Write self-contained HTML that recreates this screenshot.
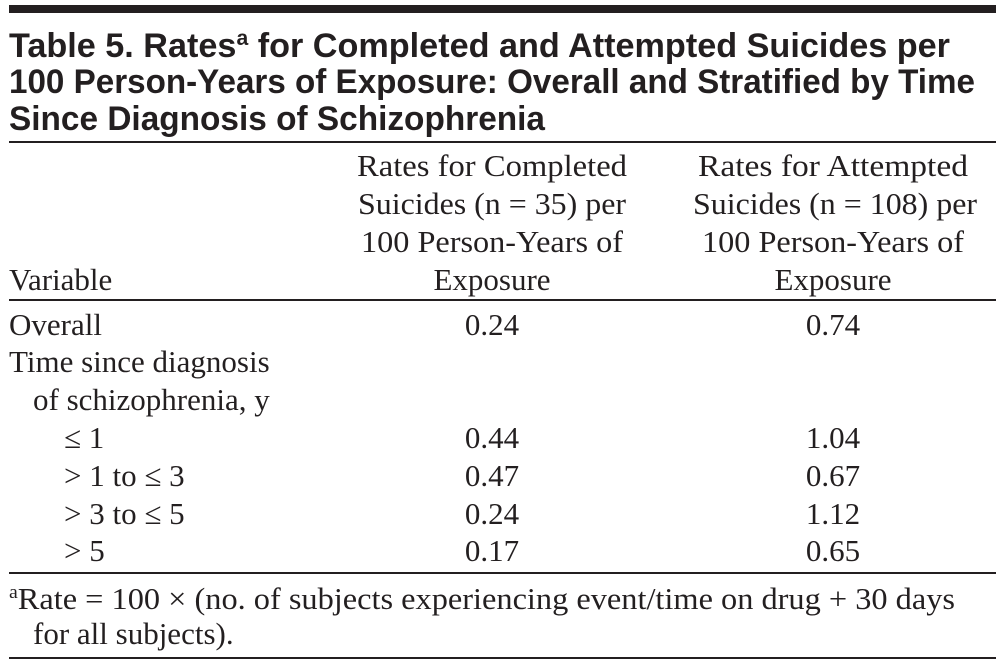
<!DOCTYPE html>
<html><head><meta charset="utf-8"><style>
html,body{margin:0;padding:0;background:#fff;}
svg{display:block;}
.t{font-family:"Liberation Sans",sans-serif;font-weight:bold;font-size:34px;fill:#231f20;}
.s{font-family:"Liberation Serif",serif;font-size:31px;fill:#231f20;}
</style></head><body>
<svg width="1003" height="666" viewBox="0 0 1003 666">
<rect x="9" y="5" width="987" height="8" fill="#231f20"/>
<g>
<text class="t" x="9" y="57" textLength="941" lengthAdjust="spacingAndGlyphs">Table 5. Rates<tspan font-size="21" dy="-12">a</tspan><tspan dy="12"> for Completed and Attempted Suicides per</tspan></text>
<text class="t" x="9" y="93" textLength="966" lengthAdjust="spacingAndGlyphs">100 Person-Years of Exposure: Overall and Stratified by Time</text>
<text class="t" x="9" y="130" textLength="536" lengthAdjust="spacingAndGlyphs">Since Diagnosis of Schizophrenia</text>
</g>
<rect x="9" y="141" width="987" height="2" fill="#231f20"/>
<g>
<text class="s" x="9" y="290">Variable</text>
<g text-anchor="middle">
<text class="s" x="492" y="176" textLength="270" lengthAdjust="spacingAndGlyphs">Rates for Completed</text>
<text class="s" x="492" y="214" textLength="268" lengthAdjust="spacingAndGlyphs">Suicides (n = 35) per</text>
<text class="s" x="492" y="252" textLength="262" lengthAdjust="spacingAndGlyphs">100 Person-Years of</text>
<text class="s" x="492" y="290">Exposure</text>
<text class="s" x="833" y="176" textLength="270" lengthAdjust="spacingAndGlyphs">Rates for Attempted</text>
<text class="s" x="835" y="214" textLength="284" lengthAdjust="spacingAndGlyphs">Suicides (n = 108) per</text>
<text class="s" x="833" y="252" textLength="262" lengthAdjust="spacingAndGlyphs">100 Person-Years of</text>
<text class="s" x="833" y="290">Exposure</text>
</g></g>
<rect x="9" y="299" width="987" height="2" fill="#231f20"/>
<g>
<text class="s" x="9" y="335">Overall</text>
<text class="s" x="9" y="372">Time since diagnosis</text>
<text class="s" x="33" y="410">of schizophrenia, y</text>
<text class="s" x="64" y="448">≤ 1</text>
<text class="s" x="64" y="486">&gt; 1 to ≤ 3</text>
<text class="s" x="64" y="524">&gt; 3 to ≤ 5</text>
<text class="s" x="64" y="561">&gt; 5</text>
<g text-anchor="middle">
<text class="s" x="492" y="335">0.24</text><text class="s" x="833" y="335">0.74</text>
<text class="s" x="492" y="448">0.44</text><text class="s" x="833" y="448">1.04</text>
<text class="s" x="492" y="486">0.47</text><text class="s" x="833" y="486">0.67</text>
<text class="s" x="492" y="524">0.24</text><text class="s" x="833" y="524">1.12</text>
<text class="s" x="492" y="561">0.17</text><text class="s" x="833" y="561">0.65</text>
</g></g>
<rect x="9" y="572" width="987" height="2" fill="#231f20"/>
<g>
<text class="s" x="9" y="609" textLength="946" lengthAdjust="spacingAndGlyphs"><tspan font-size="19" dy="-11">a</tspan><tspan dy="11">Rate = 100 × (no. of subjects experiencing event/time on drug + 30 days</tspan></text>
<text class="s" x="33" y="644">for all subjects).</text>
</g>
<rect x="9" y="657" width="987" height="2" fill="#231f20"/>
</svg>
</body></html>
